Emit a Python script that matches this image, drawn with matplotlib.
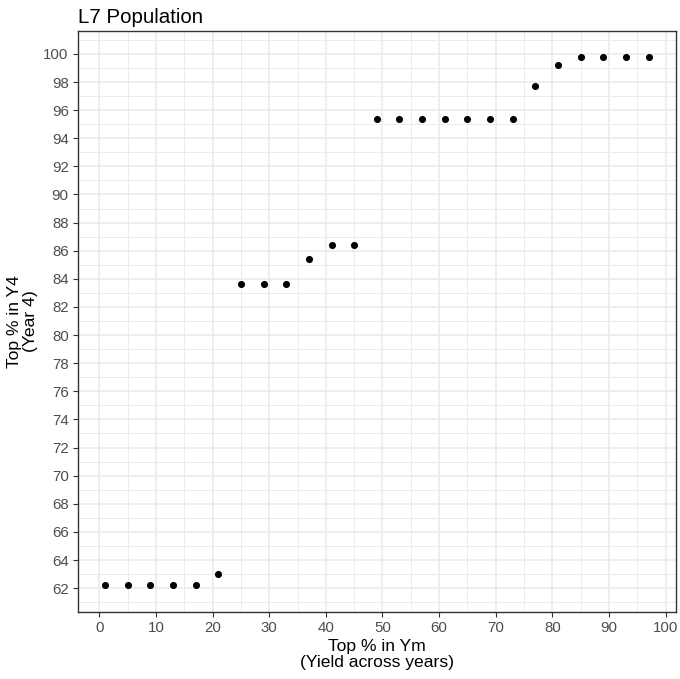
import numpy as np
import matplotlib
matplotlib.use("Agg")
import matplotlib.pyplot as plt
from matplotlib.ticker import MultipleLocator

plt.rcParams['font.family'] = ['Liberation Sans', 'DejaVu Sans']

# top % in Ym vs top % in Y4
top_ym = [1, 5, 9, 13, 17, 21, 25, 29, 33, 37, 41, 45, 49, 53, 57, 61, 65, 69, 73,
          77, 81, 85, 89, 93, 97]
top_y4 = [62.2, 62.2, 62.2, 62.2, 62.2, 63.0, 83.6, 83.6, 83.6, 85.4, 86.4, 86.4,
          95.4, 95.4, 95.4, 95.4, 95.4, 95.4, 95.4, 97.7, 99.2, 99.75, 99.75, 99.75, 99.75]

x_ticks = np.arange(0, 101, 10)
y_ticks = np.arange(62, 101, 2)

fig = plt.figure(figsize=(6.8, 6.79), dpi=100)
ax = fig.add_axes([0.1143, 0.0991, 0.994 - 0.1143, 0.9543 - 0.0991])

ax.scatter(top_ym, top_y4, s=26, color="black", zorder=3, linewidths=0)

# ggplot-style expansion (5%)
xr = max(top_ym) - min(top_ym)
yr = max(top_y4) - min(top_y4)
ax.set_xlim(min(top_ym) - 0.05 * xr, max(top_ym) + 0.05 * xr)
ax.set_ylim(min(top_y4) - 0.05 * yr, max(top_y4) + 0.05 * yr)

ax.set_xticks(x_ticks)
ax.set_yticks(y_ticks)
ax.xaxis.set_minor_locator(MultipleLocator(5))
ax.yaxis.set_minor_locator(MultipleLocator(1))
ax.grid(True, which="major", color="#EBEBEB", lw=1.2, zorder=0)
ax.grid(True, which="minor", color="#EBEBEB", lw=0.7, zorder=0)
ax.set_axisbelow(True)

ax.tick_params(which="major", length=3.5, width=0.8, color="#333333",
               labelsize=10.8, labelcolor="#4D4D4D", pad=3)
ax.tick_params(which="minor", length=0)
for sp in ax.spines.values():
    sp.set_color("#333333")
    sp.set_linewidth(1.0)

ax.set_xlabel("Top % in Ym\n(Yield across years)", fontsize=12.6, labelpad=3,
              linespacing=1.05)
ax.set_ylabel("Top % in Y4\n(Year 4)", fontsize=12.6, labelpad=4, linespacing=1.05)
ax.set_title("L7 Population", loc="left", fontsize=14.8, pad=6)

fig.savefig("out.png", dpi=100)
